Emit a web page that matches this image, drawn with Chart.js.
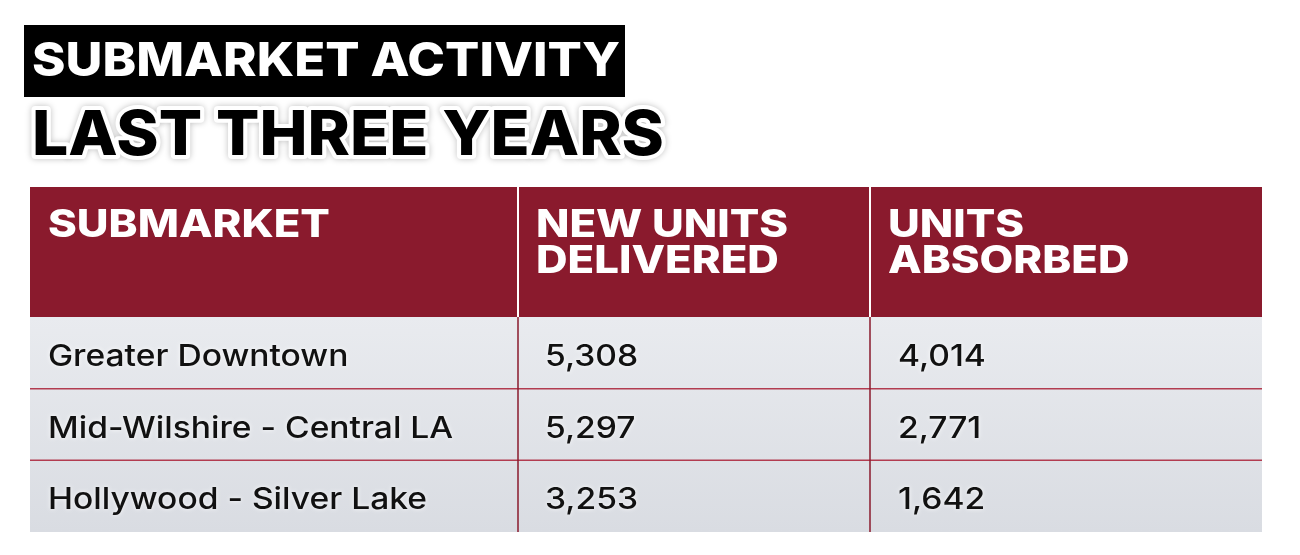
<!DOCTYPE html>
<html><head><meta charset="utf-8">
<script src="https://cdn.jsdelivr.net/npm/chart.js@4"></script>
<style>html,body{margin:0;padding:0;background:#fff}#w{width:1300px;height:555px}</style>
</head><body><div id="w"><canvas id="c"></canvas></div>
<script>
const titleLine1 = "SUBMARKET ACTIVITY";
const titleLine2 = "LAST THREE YEARS";
const columnHeaders = [["SUBMARKET"], ["NEW UNITS", "DELIVERED"], ["UNITS", "ABSORBED"]];
const submarkets = ["Greater Downtown", "Mid-Wilshire - Central LA", "Hollywood - Silver Lake"];
const newUnitsDelivered = [5308, 5297, 3253];
const unitsAbsorbed = [4014, 2771, 1642];

const colEdges = [0, 488, 840, 1232];
const RED = "#8a1a2d";
const fmt = v => v.toLocaleString("en-US");

function wideText(ctx, t, x, y, sx, stroke) {
  ctx.save(); ctx.translate(x, y); ctx.scale(sx, 1);
  if (stroke) ctx.strokeText(t, 0, 0); else ctx.fillText(t, 0, 0);
  ctx.restore();
}

const tablePlugin = {
  id: "table",
  beforeDraw(chart) {
    const ctx = chart.ctx, ca = chart.chartArea, xs = chart.scales.x, ys = chart.scales.y;
    ctx.save();
    ctx.fillStyle = "#000";
    ctx.fillRect(24, 25, 601, 72);
    ctx.font = "800 47px Inter, 'Open Sans', sans-serif";
    ctx.fillStyle = "#fff"; ctx.textBaseline = "middle"; ctx.textAlign = "left";
    wideText(ctx, titleLine1, 32, 62, 1.08);
    ctx.font = "800 62px Inter, 'Open Sans', sans-serif";
    ctx.lineWidth = 8; ctx.strokeStyle = "#fff"; ctx.lineJoin = "round";
    ctx.shadowColor = "rgba(0,0,0,0.25)"; ctx.shadowBlur = 6;
    wideText(ctx, titleLine2, 32, 136, 1.035, true);
    ctx.shadowBlur = 0;
    ctx.fillStyle = "#000";
    wideText(ctx, titleLine2, 32, 136, 1.035);
    const g = ctx.createLinearGradient(0, ca.top, 0, ca.bottom);
    g.addColorStop(0, "#e9ebef"); g.addColorStop(1, "#d9dce2");
    ctx.fillStyle = g;
    ctx.fillRect(ca.left, ca.top, ca.right - ca.left, ca.bottom - ca.top);
    const hTop = 187;
    ctx.fillStyle = RED;
    ctx.fillRect(ca.left, hTop, ca.right - ca.left, ca.top - hTop);
    ctx.font = "800 38px Inter, 'Open Sans', sans-serif";
    ctx.fillStyle = "#fff"; ctx.textBaseline = "alphabetic";
    columnHeaders.forEach((lines, i) => {
      const x = xs.getPixelForValue(colEdges[i]) + 18;
      lines.forEach((l, j) => wideText(ctx, l, x, 237 + j * 36, 1.15));
    });
    const n = submarkets.length;
    ctx.strokeStyle = "#b23c50"; ctx.lineWidth = 1.5;
    for (let i = 1; i < n; i++) {
      const yy = (ys.getPixelForValue(i - 1) + ys.getPixelForValue(i)) / 2;
      ctx.beginPath(); ctx.moveTo(ca.left, yy); ctx.lineTo(ca.right, yy); ctx.stroke();
    }
    ctx.strokeStyle = "#fff"; ctx.lineWidth = 2;
    for (let i = 1; i < colEdges.length - 1; i++) {
      const x = xs.getPixelForValue(colEdges[i]);
      ctx.beginPath(); ctx.moveTo(x, hTop); ctx.lineTo(x, ca.top); ctx.stroke();
    }
    ctx.strokeStyle = RED; ctx.lineWidth = 1.5;
    for (let i = 1; i < colEdges.length - 1; i++) {
      const x = xs.getPixelForValue(colEdges[i]);
      ctx.beginPath(); ctx.moveTo(x, ca.top); ctx.lineTo(x, ca.bottom); ctx.stroke();
    }
    ctx.font = "500 30px Inter, 'Open Sans', sans-serif";
    ctx.fillStyle = "#111"; ctx.textBaseline = "middle";
    ctx.shadowColor = "rgba(255,255,255,0.9)"; ctx.shadowBlur = 4;
    submarkets.forEach((s, i) => {
      const y = ys.getPixelForValue(i) + 4;
      wideText(ctx, s, xs.getPixelForValue(colEdges[0]) + 18, y, 1.12);
      wideText(ctx, fmt(newUnitsDelivered[i]), xs.getPixelForValue(colEdges[1]) + 27, y, 1.12);
      wideText(ctx, fmt(unitsAbsorbed[i]), xs.getPixelForValue(colEdges[2]) + 28, y, 1.12);
    });
    ctx.restore();
  }
};

new Chart(document.getElementById("c"), {
  type: "scatter",
  data: { labels: submarkets, datasets: [{ data: [], showLine: false }] },
  options: {
    responsive: true, maintainAspectRatio: false, animation: false,
    layout: { padding: { left: 30, right: 38, top: 317, bottom: 23 } },
    plugins: { legend: { display: false }, tooltip: { enabled: false } },
    scales: {
      x: { type: "linear", min: colEdges[0], max: colEdges[colEdges.length - 1], display: false },
      y: { type: "category", labels: submarkets, offset: true, display: false }
    }
  },
  plugins: [tablePlugin]
});
</script></body></html>
